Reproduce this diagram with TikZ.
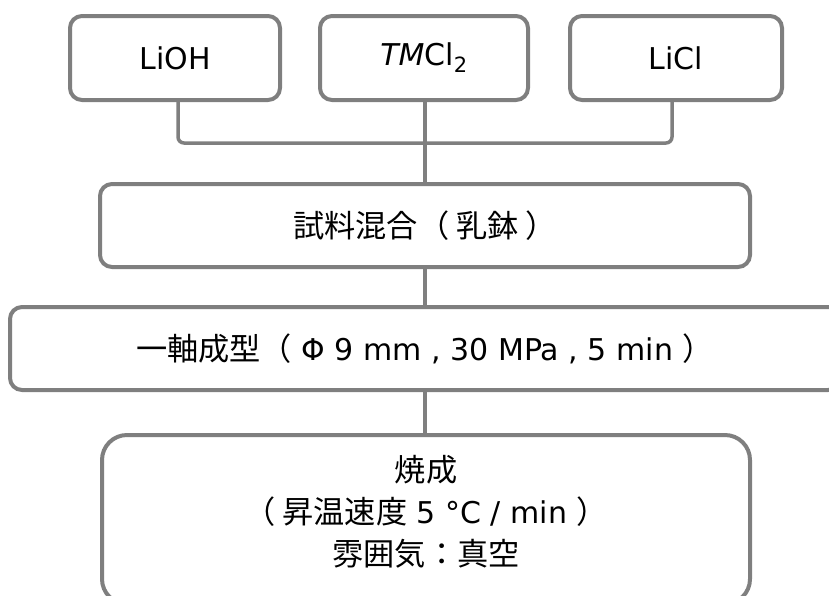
\documentclass[tikz,border=0pt]{standalone}
\usepackage{fontspec}
\setmainfont{DejaVu Sans}
\newfontfamily\jp{Noto Sans CJK JP}[Scale=1.04]
\definecolor{linegray}{HTML}{7F7F7F}
\begin{document}
\begin{tikzpicture}[x=1pt,y=-1pt,
  box/.style={draw=linegray, line width=4pt, rounded corners=12pt, fill=white,
    text=black, inner sep=0pt, font=\fontsize{30}{42}\selectfont},
  bigbox/.style={box, rounded corners=25pt},
  txt/.style={text=black, inner sep=0pt, align=center, font=\fontsize{30}{42}\selectfont},
  conn/.style={draw=linegray, line width=3.5pt}]
\useasboundingbox (0,0) rectangle (829,595);
\clip (0,0) rectangle (829,595);
% connectors
\coordinate (lioht) at (178,100);
\coordinate (licht) at (672,100);
\draw[conn, rounded corners=6pt] (lioht) -- (178,143) -- (672,143) -- (licht);
\draw[conn] (425,100) -- (425,184);
\draw[conn] (425,267) -- (425,307);
\draw[conn] (425,390) -- (425,433);
% boxes
\node[box, minimum width=210, minimum height=84] (lioh) at (175,58) {LiOH};
\node[box, minimum width=208, minimum height=84] (tm) at (424,58) {{\itshape TM}Cl\textsubscript{2}};
\node[box, minimum width=212, minimum height=84] (licl) at (676,58) {LiCl};
\node[box, minimum width=650, minimum height=83] (mix) at (425,225.5) {{\jp 試料混合（ 乳鉢 ）}};
\node[box, minimum width=830, minimum height=83] (form) at (425,348.5) {{\jp 一軸成型（} Φ 9 mm , 30 MPa , 5 min {\jp ）}};
\node[bigbox, minimum width=648, minimum height=169, anchor=north] (bake) at (426,433) {};
\node[txt] (baketext) at (426,512) {{\jp 焼成}\\{\jp （ 昇温速度} 5 °C / min {\jp ）}\\{\jp 雰囲気：真空}};
\end{tikzpicture}
\end{document}
